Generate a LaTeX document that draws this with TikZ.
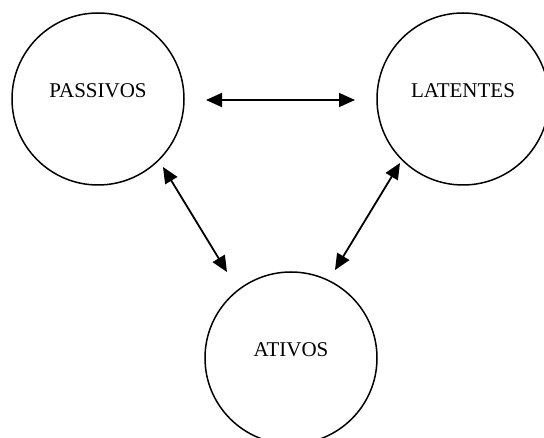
\documentclass[tikz,border=0pt]{standalone}
\usepackage{fontspec}
\setmainfont{Liberation Serif}
\usetikzlibrary{arrows.meta}
\begin{document}
\begin{tikzpicture}[x=1pt,y=-1pt,
  group/.style={circle,draw,line width=1.5pt,minimum size=172pt,inner sep=0pt},
  tag/.style={font=\fontsize{21}{25}\selectfont,inner sep=0pt},
  link/.style={line width=1.8pt,{Triangle[length=16pt,width=14pt]}-{Triangle[length=16pt,width=14pt]}}]
  \useasboundingbox (0,0) rectangle (544,438);
  % the three groups
  \node[group] (pas) at (98,99) {};
  \node[group] (lat) at (463,99) {};
  \node[group] (ati) at (291,358) {};
  \node[tag] (pasT) at (98,91) {PASSIVOS};
  \node[tag] (latT) at (463,91) {LATENTES};
  \node[tag] (atiT) at (291,350) {ATIVOS};
  % arrow end points between the circles
  \coordinate (pl1) at (206,100);
  \coordinate (pl2) at (355,100);
  \coordinate (pa1) at (163,167);
  \coordinate (pa2) at (227,272);
  \coordinate (la1) at (400,163);
  \coordinate (la2) at (335,270);
  \draw[link] (pl1) -- (pl2);
  \draw[link] (pa1) -- (pa2);
  \draw[link] (la1) -- (la2);
\end{tikzpicture}
\end{document}
